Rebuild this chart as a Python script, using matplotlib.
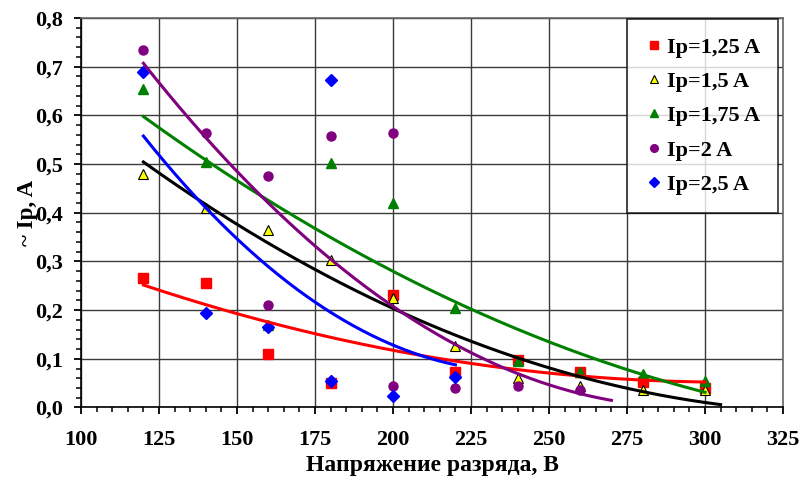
import numpy as np
import matplotlib
matplotlib.use("Agg")
import matplotlib.pyplot as plt
from matplotlib.ticker import MultipleLocator, FuncFormatter

plt.rcParams['font.family'] = ['Liberation Serif', 'DejaVu Serif']
plt.rcParams['font.weight'] = 'bold'

# data
u_125 = [120, 140, 160, 180, 200, 220, 240, 260, 280, 300]
i_125 = [0.265, 0.255, 0.110, 0.050, 0.232, 0.072, 0.098, 0.072, 0.052, 0.040]

u_15 = [120, 140, 160, 180, 200, 220, 240, 260, 280, 300]
i_15 = [0.480, 0.410, 0.365, 0.303, 0.225, 0.127, 0.060, 0.045, 0.035, 0.035]

u_175 = [120, 140, 160, 180, 200, 220, 240, 260, 280, 300]
i_175 = [0.655, 0.505, 0.170, 0.502, 0.420, 0.205, 0.095, 0.072, 0.068, 0.055]

u_2 = [120, 140, 160, 160, 180, 200, 200, 220, 240, 260]
i_2 = [0.735, 0.563, 0.475, 0.210, 0.558, 0.563, 0.045, 0.040, 0.045, 0.035]

u_25 = [120, 140, 160, 180, 180, 200, 220]
i_25 = [0.690, 0.195, 0.166, 0.673, 0.055, 0.023, 0.062]

# the Ip=2 A trend line does not follow its points, so it is read off the picture
u_2_trend = [120, 140, 155, 183, 200, 240, 270]
i_2_trend = [0.700, 0.570, 0.447, 0.286, 0.202, 0.077, 0.012]

labels = ['Ip=1,25 A', 'Ip=1,5 A', 'Ip=1,75 A', 'Ip=2 A', 'Ip=2,5 A']
# end of each trend line on the x axis
trend_end = [300, 305, 300, 270, 220]

series = [(u_125, i_125), (u_15, i_15), (u_175, i_175), (u_2, i_2), (u_25, i_25)]
trend_src = [(u_125, i_125), (u_15, i_15), (u_175, i_175), (u_2_trend, i_2_trend), (u_25, i_25)]
marker_styles = [
    dict(marker='s', color='red', mec='red', ms=7.5),
    dict(marker='^', color='yellow', mec='black', mew=0.8, ms=7.5),
    dict(marker='^', color='green', mec='green', ms=7.5),
    dict(marker='o', color='purple', mec='purple', ms=6.5),
    dict(marker='D', color='blue', mec='blue', ms=6.5),
]
line_colors = ['red', 'black', 'green', 'purple', 'blue']

fig = plt.figure(figsize=(8.11, 4.79), dpi=100)
ax = fig.add_axes([0.0999, 0.1493, 0.8656, 0.8131])

for (u, i), st, lab in zip(series, marker_styles, labels):
    ax.plot(u, i, ls='none', label=lab, zorder=3, **st)

# polynomial trend lines (2nd order)
for (u, i), c, xe in zip(trend_src, line_colors, trend_end):
    p = np.polyfit(u, i, 2)
    xs = np.linspace(min(u), xe, 200)
    ax.plot(xs, np.polyval(p, xs), color=c, lw=2.2, zorder=4)

ax.set_xlim(100, 325)
ax.set_ylim(0, 0.8)
ax.xaxis.set_major_locator(MultipleLocator(25))
ax.xaxis.set_minor_locator(MultipleLocator(5))
ax.yaxis.set_major_locator(MultipleLocator(0.1))
ax.yaxis.set_minor_locator(MultipleLocator(0.02))
ax.yaxis.set_major_formatter(FuncFormatter(lambda v, pos: f"{v:.1f}".replace('.', ',')))
ax.tick_params(which='major', direction='out', length=5, width=1.3, labelsize=16)
ax.tick_params(which='minor', direction='out', length=3.5, width=1.1)
ax.tick_params(axis='x', which='major', pad=11)
ax.tick_params(axis='y', which='major', pad=8)
ax.grid(True, which='major', color='#3a3a3a', lw=1)
ax.set_axisbelow(True)
for s in ax.spines.values():
    s.set_linewidth(1.2)
    s.set_color('#666666')
ax.spines['left'].set_color('black')
ax.spines['bottom'].set_color('black')

ax.set_xlabel('Напряжение разряда, В', fontsize=17, fontweight='bold', labelpad=4)
ax.set_ylabel('~ Ip, A', fontsize=16.5, fontweight='bold', labelpad=-2)

leg = ax.legend(loc='upper right', bbox_to_anchor=(0.993, 0.997), fontsize=16,
                frameon=True, fancybox=False, edgecolor='black', handlelength=0.8,
                handletextpad=0.2, labelspacing=0.62, borderpad=0.8, borderaxespad=0)
leg.get_frame().set_linewidth(1.2)
for h in leg.legend_handles:
    h.set_markersize(5.5)

fig.savefig('out.png', dpi=100)
